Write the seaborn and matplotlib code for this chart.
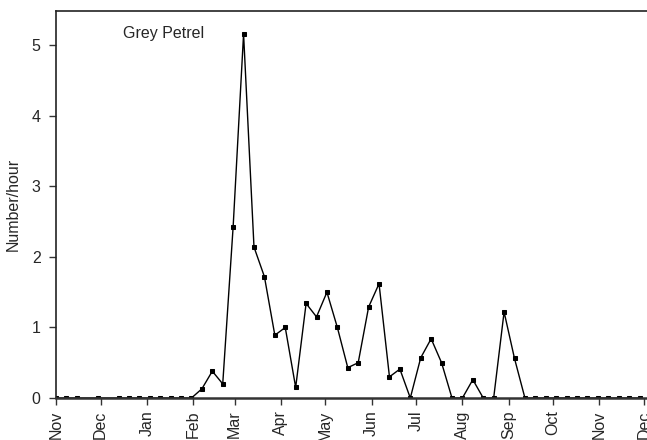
import numpy as np
import pandas as pd
import matplotlib
matplotlib.use("Agg")
import matplotlib.pyplot as plt
import matplotlib.dates as mdates
import seaborn as sns

# Data: week number since 1 Nov (weekly survey), counts per hour
weeks = [0, 1, 2, 4, 6, 7, 8, 9, 10, 11, 12, 13, 14, 15, 16, 17, 18, 19, 20,
         21, 22, 23, 24, 25, 26, 27, 28, 29, 30, 31, 32, 33, 34, 35, 36, 37,
         38, 39, 40, 41, 42, 43, 44, 45, 46, 47, 48, 49, 50, 51, 52, 53, 54,
         55, 56]
rate = [0, 0, 0, 0, 0, 0, 0, 0, 0, 0, 0, 0, 0.13, 0.38, 0.20, 2.43, 5.16,
        2.14, 1.72, 0.89, 1.00, 0.15, 1.34, 1.15, 1.50, 1.00, 0.43, 0.50,
        1.29, 1.62, 0.30, 0.41, 0, 0.57, 0.84, 0.50, 0, 0, 0.26, 0, 0, 1.22,
        0.56, 0, 0, 0, 0, 0, 0, 0, 0, 0, 0, 0, 0]
start_date = "2002-11-01"
end_date = "2003-12-03"
title_text = "Grey Petrel"
y_label = "Number/hour"
y_ticks = [0, 1, 2, 3, 4, 5]

df = pd.DataFrame({
    "date": pd.Timestamp(start_date) + pd.to_timedelta(np.array(weeks) * 7, unit="D"),
    "rate": rate,
})

sns.set_style("ticks")
plt.rcParams["font.family"] = ["Liberation Sans", "DejaVu Sans"]
plt.rcParams["font.size"] = 11.5

fig = plt.figure(figsize=(6.47, 4.40), dpi=100)
ax = fig.add_axes([56 / 647, 42 / 440, 1 - 56 / 647, (398 - 10.7) / 440])

sns.lineplot(data=df, x="date", y="rate", ax=ax, color="black", linewidth=1.0,
             marker="s", markersize=3.2, markeredgecolor="black",
             markerfacecolor="black")

ax.set_xlim(pd.Timestamp(start_date), pd.Timestamp(end_date))
ax.set_ylim(0, 5.49)
ax.set_yticks(y_ticks)
ax.xaxis.set_major_locator(mdates.MonthLocator())
ax.xaxis.set_major_formatter(mdates.DateFormatter("%b"))
for lab in ax.get_xticklabels():
    lab.set_rotation(90)

ax.set_xlabel("")
ax.set_ylabel(y_label, fontsize=11.5, labelpad=8)
ax.tick_params(axis="both", labelsize=11.5, length=5, width=1.0, color="#333333",
               direction="out", pad=4)
ax.tick_params(axis="y", pad=6)

for side in ["top", "left"]:
    ax.spines[side].set_visible(True)
    ax.spines[side].set_color("#222222")
    ax.spines[side].set_linewidth(1.2)
ax.spines["bottom"].set_color("#333333")
ax.spines["bottom"].set_linewidth(1.8)
ax.spines["right"].set_visible(False)

ax.text(0.113, 0.942, title_text, transform=ax.transAxes, ha="left",
        va="center", fontsize=11.5)

fig.savefig("out.png", dpi=100)
